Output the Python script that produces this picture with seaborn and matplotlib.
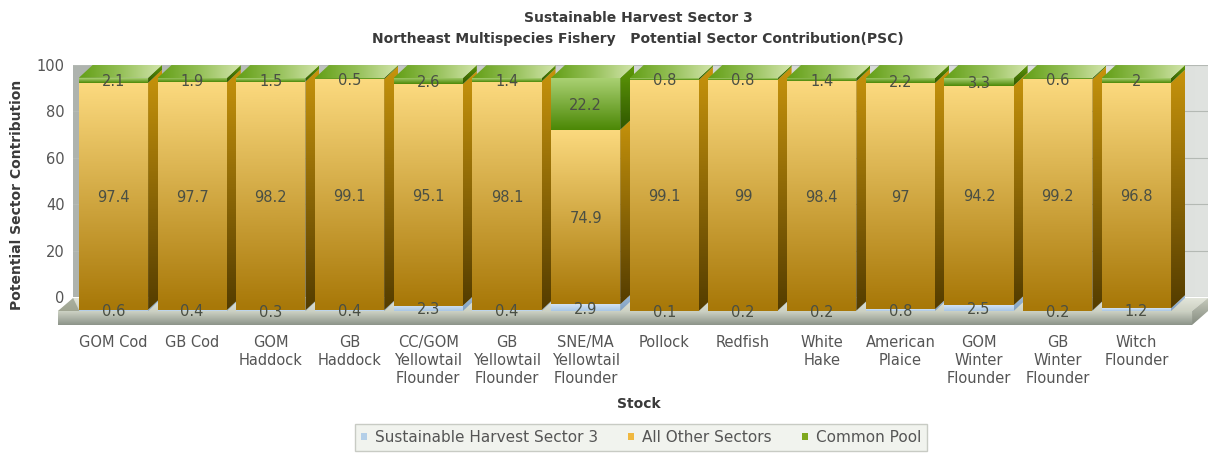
import numpy as np
import pandas as pd
import matplotlib
matplotlib.use("Agg")
import matplotlib.pyplot as plt
import seaborn as sns
from matplotlib.colors import LinearSegmentedColormap
from matplotlib.patches import Polygon, Patch

# data
stocks = ["GOM Cod", "GB Cod", "GOM\nHaddock", "GB\nHaddock", "CC/GOM\nYellowtail\nFlounder",
          "GB\nYellowtail\nFlounder", "SNE/MA\nYellowtail\nFlounder", "Pollock", "Redfish",
          "White\nHake", "American\nPlaice", "GOM\nWinter\nFlounder", "GB\nWinter\nFlounder",
          "Witch\nFlounder"]
sector3 = [0.6, 0.4, 0.3, 0.4, 2.3, 0.4, 2.9, 0.1, 0.2, 0.2, 0.8, 2.5, 0.2, 1.2]
others = [97.4, 97.7, 98.2, 99.1, 95.1, 98.1, 74.9, 99.1, 99, 98.4, 97, 94.2, 99.2, 96.8]
pool = [2.1, 1.9, 1.5, 0.5, 2.6, 1.4, 22.2, 0.8, 0.8, 1.4, 2.2, 3.3, 0.6, 2]
series_names = ["Sustainable Harvest Sector 3", "All Other Sectors", "Common Pool"]
y_ticks = [0, 20, 40, 60, 80, 100]

# colours: front top, front bottom, side top, side bottom
blue_cols = ["#d3e3f3", "#a9c6e4", "#a5c0dc", "#7f9fc0"]
gold_cols = ["#fbd97e", "#a87808", "#c6930c", "#553d00"]
green_cols = ["#a9d072", "#4c8806", "#5f9a08", "#2f5600"]
text_col = "#555555"
title_col = "#3a3a3a"

sns.set_style("white")
plt.rcParams["font.family"] = ["DejaVu Sans"]
plt.rcParams["font.size"] = 10

W, H = 1210, 458
fig = plt.figure(figsize=(W / 100, H / 100), dpi=100, facecolor="white")


def px_axes(x0, y0, x1, y1):
    return fig.add_axes([x0 / W, 1 - y1 / H, (x1 - x0) / W, (y1 - y0) / H])


def grad(ax, verts, colors, z, horizontal=False):
    verts = np.array(verts, dtype=float)
    cmap = LinearSegmentedColormap.from_list("g", colors)
    arr = np.linspace(0, 1, 64).reshape(1, -1) if horizontal else np.linspace(0, 1, 64).reshape(-1, 1)
    im = ax.imshow(arr, extent=(verts[:, 0].min(), verts[:, 0].max(), verts[:, 1].min(), verts[:, 1].max()),
                   cmap=cmap, aspect="auto", origin="upper", zorder=z, interpolation="bilinear")
    im.set_clip_path(Polygon(verts, closed=True, transform=ax.transData))


# back wall, has the y axis and the grid
wall = px_axes(73, 65, 1208, 297)
wall.set_xlim(0, 1)
wall.set_ylim(0, 100)
grad(wall, [(0, 0), (1, 0), (1, 100), (0, 100)], ["#aeb3ae", "#d2d6d2", "#dfe2df"], 0, horizontal=True)
wall.set_xticks([])
wall.set_yticks(y_ticks)
wall.tick_params(axis="y", length=0, pad=6, labelsize=10.5, labelcolor=text_col)
wall.grid(axis="y", color="#b4b9b4", lw=0.8)
wall.set_axisbelow(False)
sns.despine(ax=wall, left=True, bottom=True, top=True, right=True)

# bars sit on the front plane, 1 unit = 2.33 px
ax = px_axes(58, 65, 1208, 325)
ax.patch.set_alpha(0)
df = pd.DataFrame({"stock": stocks, "s3": sector3, "oth": others, "pool": pool})
base1 = np.zeros(len(stocks))
base2 = base1 + np.array(sector3)
base3 = base2 + np.array(others)
for col, base, c in zip(["s3", "oth", "pool"], [base1, base2, base3], [blue_cols, gold_cols, green_cols]):
    sns.barplot(data=df, x="stock", y=col, bottom=base, color=c[0], width=0.88, saturation=1,
                errorbar=None, linewidth=0, ax=ax)
ax.set_xlim(-0.705, 13.91)
ax.set_ylim(-6, 105.6)

dx = 14 / 78.7
dy = 13 / 2.33
x_lo, x_hi = ax.get_xlim()
y_lo, y_hi = ax.get_ylim()

# floor slab
grad(ax, [(x_lo, 0), (x_hi - 2 * dx * 0.57, 0), (x_hi, dy), (x_lo + 2 * dx * 0.54, dy)],
     ["#e2e5da", "#cdd1c3"], 1)
grad(ax, [(x_lo, 0), (x_hi - 2 * dx * 0.57, 0), (x_hi - 2 * dx * 0.57, y_lo), (x_lo, y_lo)],
     ["#cdd2c4", "#8d948a"], 1)
grad(ax, [(x_hi - 2 * dx * 0.57, 0), (x_hi, dy), (x_hi, 0), (x_hi - 2 * dx * 0.57, y_lo)],
     ["#c5c9bb", "#858c80"], 1)
grad(ax, [(x_lo, 0), (x_lo + 2 * dx * 0.54, dy), (x_lo + 2 * dx * 0.54 + 0.08, 0)],
     ["#aab0a0", "#a0a592"], 1)

# 3d faces on top of the seaborn bars
for k, c in enumerate([blue_cols, gold_cols, green_cols]):
    for i, bar in enumerate(ax.containers[k]):
        x0, x1 = bar.get_x(), bar.get_x() + bar.get_width()
        b, t = bar.get_y(), bar.get_y() + bar.get_height()
        z = 2 + i * 3
        bar.set_zorder(z + 1)
        grad(ax, [(x1, b), (x1 + dx, b + dy), (x1 + dx, t + dy), (x1, t)], c[2:], z)
        grad(ax, [(x0, b), (x1, b), (x1, t), (x0, t)], c[:2], z + 1)
        if k == 2:
            grad(ax, [(x0, t), (x1, t), (x1 + dx, t + dy), (x0 + dx, t + dy)],
                 ["#639f16", "#95c058", "#d3e5ac"], z + 1, horizontal=True)

# value labels
for vals, base in zip([sector3, others, pool], [base1, base2, base3]):
    for i, v in enumerate(vals):
        ax.text(i, base[i] + v / 2 - 0.6, f"{v:g}", ha="center", va="center", fontsize=10.5,
                color="#4a4f44", zorder=100)

ax.set_yticks([])
ax.set_xlabel("")
ax.set_ylabel("")
ax.tick_params(axis="x", length=0, pad=7, labelsize=10.5, labelcolor=text_col)
for lab in ax.get_xticklabels():
    lab.set_linespacing(1.25)
sns.despine(ax=ax, left=True, bottom=True, top=True, right=True)

fig.text(638 / W, 1 - 18 / H, "Sustainable Harvest Sector 3", ha="center", va="center",
         fontsize=10, fontweight="bold", color=title_col)
fig.text(638 / W, 1 - 39 / H, "Northeast Multispecies Fishery   Potential Sector Contribution(PSC)",
         ha="center", va="center", fontsize=10, fontweight="bold", color=title_col)
fig.text(639 / W, 1 - 404 / H, "Stock", ha="center", va="center", fontsize=10, fontweight="bold", color=title_col)
fig.text(17 / W, 1 - 195 / H, "Potential Sector Contribution", ha="center", va="center", rotation=90,
         fontsize=10, fontweight="bold", color=title_col)

handles = [Patch(facecolor=c, edgecolor="none") for c in ["#b4cfe8", "#f0b840", "#7fa81e"]]
leg = fig.legend(handles, series_names, loc="center", bbox_to_anchor=(641 / W, 1 - 437.5 / H), ncol=3,
                 frameon=True, fancybox=False, fontsize=11, labelcolor=text_col, handlelength=0.4,
                 handleheight=0.4, handletextpad=0.5, columnspacing=2.0, borderpad=0.4)
leg.get_frame().set_facecolor("#f1f3ee")
leg.get_frame().set_edgecolor("#c8cbc4")
leg.get_frame().set_alpha(1)

fig.savefig("out.png", dpi=100)
